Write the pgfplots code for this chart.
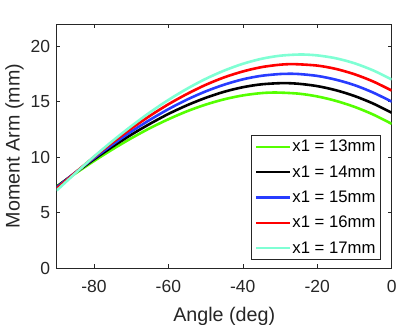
\documentclass[border=0pt]{standalone}
\usepackage{fontspec}
\setmainfont{Liberation Sans}
\usepackage{pgfplots}
\pgfplotsset{compat=1.18}
\definecolor{cgreen}{RGB}{85,255,0}
\definecolor{cblue}{RGB}{40,60,255}
\definecolor{cred}{RGB}{255,0,0}
\definecolor{ccyan}{RGB}{127,255,212}
\definecolor{axgray}{RGB}{38,38,38}
\begin{document}
\begin{tikzpicture}
\useasboundingbox (-56.7bp,-57bp) rectangle (350.3bp,268bp);
\begin{axis}[
  at={(0,0)}, anchor=south west,
  scale only axis, width=335bp, height=244bp,
  xmin=-90, xmax=0, ymin=0, ymax=22,
  xtick={-80,-60,-40,-20,0}, xticklabels={-80,-60,-40,-20,0},
  ytick={0,5,10,15,20}, yticklabels={0,5,10,15,20},
  tick align=inside, major tick length=3.5bp,
  axis line style={axgray, line width=0.6bp},
  every tick/.style={axgray, line width=0.6bp},
  xticklabel style={anchor=base, yshift=-24.5bp, font=\fontsize{17.5bp}{19bp}\selectfont, text=axgray},
  yticklabel style={anchor=east, inner sep=0pt, xshift=-6.5bp, font=\fontsize{17.5bp}{19bp}\selectfont, text=axgray},
  xlabel={Angle (deg)}, ylabel={Moment Arm (mm)},
  xlabel style={at={(rel axis cs:0.5,0)}, anchor=base, yshift=-53.7bp, font=\fontsize{19.7bp}{21bp}\selectfont, text=axgray},
  ylabel style={at={([xshift=-37bp]rel axis cs:0,0.5)}, anchor=base, font=\fontsize{19.7bp}{21bp}\selectfont, text=axgray},
  legend cell align=left,
  legend style={at={(0.967,0.033)}, anchor=south east, draw=axgray, line width=0.6bp, fill=white,
    font=\fontsize{16.7bp}{18bp}\selectfont, text=black,
    inner xsep=4bp, inner ysep=4.2bp, row sep=10.7bp,
    nodes={inner sep=0.8bp}},
  legend image code/.code={\draw[#1, line width=2.5bp] (0bp,0bp) -- (34bp,0bp);},
  clip=true,
]
\addplot[cgreen, line width=2.6bp, smooth] coordinates {
(-90,7.36) (-85,8.52) (-80,9.64) (-75,10.70) (-70,11.69) (-65,12.60) (-60,13.41) (-55,14.13) (-50,14.73) (-45,15.21) (-40,15.56) (-35,15.77) (-30.9,15.82) (-25,15.72) (-20,15.47) (-15,15.07) (-10,14.53) (-5,13.84) (0,13.00)};
\addlegendentry{x1 = 13mm}
\addplot[black, line width=2.6bp, smooth] coordinates {
(-90,7.32) (-85,8.58) (-80,9.79) (-75,10.94) (-70,12.01) (-65,12.99) (-60,13.89) (-55,14.67) (-50,15.34) (-45,15.89) (-40,16.30) (-35,16.56) (-29.3,16.67) (-25,16.61) (-20,16.40) (-15,16.03) (-10,15.51) (-5,14.83) (0,14.00)};
\addlegendentry{x1 = 14mm}
\addplot[cblue, line width=2.6bp, smooth] coordinates {
(-90,7.25) (-85,8.61) (-80,9.90) (-75,11.13) (-70,12.29) (-65,13.35) (-60,14.32) (-55,15.18) (-50,15.92) (-45,16.53) (-40,17.01) (-35,17.33) (-30,17.49) (-27.7,17.51) (-25,17.49) (-20,17.32) (-15,16.98) (-10,16.49) (-5,15.82) (0,15.00)};
\addlegendentry{x1 = 15mm}
\addplot[cred, line width=2.6bp, smooth] coordinates {
(-90,7.15) (-85,8.60) (-80,10.00) (-75,11.32) (-70,12.56) (-65,13.71) (-60,14.76) (-55,15.69) (-50,16.51) (-45,17.19) (-40,17.72) (-35,18.11) (-30,18.33) (-26.2,18.38) (-20,18.25) (-15,17.95) (-10,17.47) (-5,16.82) (0,16.00)};
\addlegendentry{x1 = 16mm}
\addplot[ccyan, line width=2.6bp, smooth] coordinates {
(-90,6.99) (-85,8.54) (-80,10.04) (-75,11.45) (-70,12.78) (-65,14.02) (-60,15.15) (-55,16.16) (-50,17.05) (-45,17.80) (-40,18.41) (-35,18.86) (-30,19.14) (-24.6,19.25) (-20,19.17) (-15,18.91) (-10,18.46) (-5,17.82) (0,17.00)};
\addlegendentry{x1 = 17mm}
\end{axis}
\end{tikzpicture}
\end{document}
